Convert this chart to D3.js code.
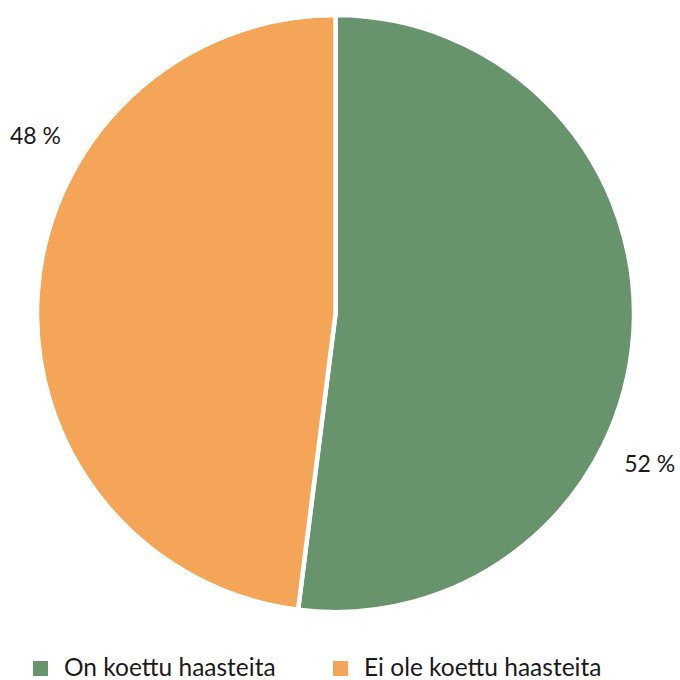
<!DOCTYPE html>
<html>
<head>
<meta charset="utf-8">
<script src="https://cdn.jsdelivr.net/npm/d3@7"></script>
<style>
  html, body { margin: 0; padding: 0; background: #fff; }
  svg { display: block; }
  text { font-family: Lato, "Source Sans Pro", "Noto Sans", sans-serif; fill: #1a1a1a; }
</style>
</head>
<body>
<svg id="chart" width="680" height="680"></svg>
<script>
// Survey answers: share of respondents
const categories = ["On koettu haasteita", "Ei ole koettu haasteita"];
const values = [52, 48];
const labels = ["52 %", "48 %"];
const colors = ["#68946d", "#f5a557"];

// Layout
const cx = 335.5, cy = 313.6, R = 298.5;
const labelR = R + 50;
const labelTurnDeg = [22, 27];   // clockwise shift of each value label from its slice middle
const legendX = [33, 333];
const legendY = 668;

const svg = d3.select("#chart");

const pie = d3.pie().sort(null).value(d => d)(values);
const arc = d3.arc().innerRadius(0).outerRadius(R);

const g = svg.append("g").attr("transform", `translate(${cx},${cy})`);

g.selectAll("path.slice")
  .data(pie)
  .join("path")
  .attr("class", "slice")
  .attr("d", arc)
  .attr("fill", (d, i) => colors[i])
  .attr("stroke", "#fff")
  .attr("stroke-width", 4.5)
  .attr("stroke-linejoin", "miter");

// Value labels just outside the rim
const labelAngle = (d, i) => (d.startAngle + d.endAngle) / 2 + labelTurnDeg[i] * Math.PI / 180;
g.selectAll("text.val")
  .data(pie)
  .join("text")
  .attr("class", "val")
  .attr("x", (d, i) => labelR * Math.sin(labelAngle(d, i)))
  .attr("y", (d, i) => -labelR * Math.cos(labelAngle(d, i)) + 8)
  .attr("text-anchor", "middle")
  .attr("font-size", 23)
  .text((d, i) => labels[i]);

// Legend
const legend = svg.append("g").attr("class", "legend");
const item = legend.selectAll("g")
  .data(categories)
  .join("g")
  .attr("transform", (d, i) => `translate(${legendX[i]},${legendY})`);
item.append("rect")
  .attr("x", 0).attr("y", -7)
  .attr("width", 15).attr("height", 15)
  .attr("fill", (d, i) => colors[i]);
item.append("text")
  .attr("x", 31)
  .attr("y", 7.5)
  .attr("font-size", 24.5)
  .text(d => d);
</script>
</body>
</html>
